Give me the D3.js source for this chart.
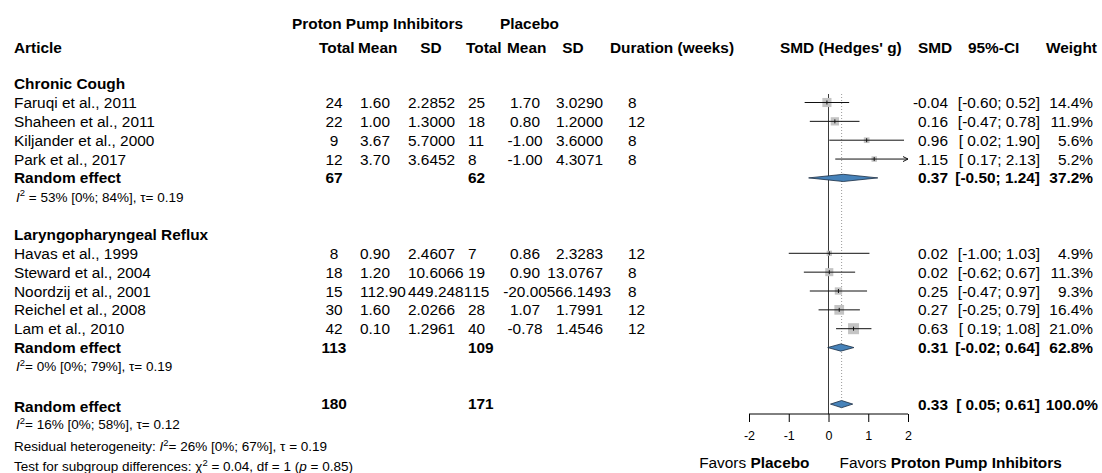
<!DOCTYPE html>
<html>
<head>
<meta charset="utf-8">
<script src="https://cdn.jsdelivr.net/npm/d3@7"></script>
<style>
  html, body { margin: 0; padding: 0; background: #fff; }
  svg text { font-family: "Liberation Sans", Arial, Helvetica, sans-serif; white-space: pre; }
</style>
</head>
<body>
<svg id="chart" width="1102" height="473"></svg>
<script>
// ---- Study-level data -------------------------------------------------
const groups = ["Chronic Cough", "Laryngopharyngeal Reflux"];
const studies = ["Faruqi et al., 2011", "Shaheen et al., 2011", "Kiljander et al., 2000", "Park et al., 2017",
                 "Havas et al., 1999", "Steward et al., 2004", "Noordzij et al., 2001", "Reichel et al., 2008", "Lam et al., 2010"];
const ppiTotal = [24, 22, 9, 12, 8, 18, 15, 30, 42];
const ppiMean  = [1.60, 1.00, 3.67, 3.70, 0.90, 1.20, 112.90, 1.60, 0.10];
const ppiSD    = [2.2852, 1.3000, 5.7000, 3.6452, 2.4607, 10.6066, 449.2481, 2.0266, 1.2961];
const plcTotal = [25, 18, 11, 8, 7, 19, 15, 28, 40];
const plcMean  = [1.70, 0.80, -1.00, -1.00, 0.86, 0.90, -20.00, 1.07, -0.78];
const plcSD    = [3.0290, 1.2000, 3.6000, 4.3071, 2.3283, 13.0767, 566.1493, 1.7991, 1.4546];
const duration = [8, 12, 8, 8, 12, 8, 8, 12, 12];
const smd      = [-0.04, 0.16, 0.96, 1.15, 0.02, 0.02, 0.25, 0.27, 0.63];
const ciLower  = [-0.60, -0.47, 0.02, 0.17, -1.00, -0.62, -0.47, -0.25, 0.19];
const ciUpper  = [0.52, 0.78, 1.90, 2.13, 1.03, 0.67, 0.97, 0.79, 1.08];
const weight   = [14.4, 11.9, 5.6, 5.2, 4.9, 11.3, 9.3, 16.4, 21.0];

// ---- Pooled (random effects) estimates -----------------------------------
const subSMD = [0.37, 0.31];
const subLower = [-0.50, -0.02];
const subUpper = [1.24, 0.64];
const subWeight = [37.2, 62.8];
const subPpiTotal = [67, 113];
const subPlcTotal = [62, 109];
const subHet = [
  { i2: "53%", ci: "[0%; 84%]", tau: "0.19", gap: " " },
  { i2: "0%",  ci: "[0%; 79%]", tau: "0.19", gap: "" }
];
const overall = { smd: 0.33, lower: 0.05, upper: 0.61, weight: 100.0, ppiTotal: 180, plcTotal: 171 };
const overallHet = { i2: "16%", ci: "[0%; 58%]", tau: "0.12" };
const residualHet = { i2: "26%", ci: "[0%; 67%]", tau: "0.19" };
const subgroupTest = { chi2: "0.04", df: "1", p: "0.85" };

const axisTicks = [-2, -1, 0, 1, 2];
const labelLeft = ["Favors ", "Placebo"];
const labelRight = ["Favors ", "Proton Pump Inhibitors"];

// ---- Layout ---------------------------------------------------------------
const svg = d3.select("#chart");
const FS = 15.4;       // main text size
const FS_SMALL = 13.5; // heterogeneity lines
const x = d3.scaleLinear().domain([-2, 2]).range([749, 908]);
// row index -> vertical centre
const row = d3.scaleLinear().domain([0, 1]).range([102.5, 121.35]);

const col = {
  study: 14, ppiTotal: 334, ppiMean: 360, ppiSD: 408, plcTotal: 468,
  plcMean: 525, plcSD: 603, duration: 628, smd: 948, ci: 1040, weight: 1093
};

function text(x0, y0, str, opt = {}) {
  return svg.append("text")
    .attr("x", x0).attr("y", y0).attr("dy", "0.36em")
    .attr("text-anchor", opt.anchor || "start")
    .attr("font-size", opt.size || FS)
    .attr("font-weight", opt.bold ? "bold" : "normal")
    .attr("fill", "#000")
    .text(str);
}
const f2 = d => d.toFixed(2);
const f4 = d => d.toFixed(4);
const fci = (l, u) => `[${l < 0 ? "" : " "}${f2(l)}; ${f2(u)}]`;

// Cells of one table row are laid out left to right; a cell whose text runs
// into the next one pushes that neighbour to the right.
function tableRow(cells) {
  let prevRight = -Infinity;
  cells.forEach(c => {
    const t = text(c.x, c.y, c.str, c);
    let b = t.node().getBBox();
    if (b.x < prevRight) {
      t.attr("x", c.x + (prevRight - b.x));
      b = t.node().getBBox();
    }
    prevRight = b.x + b.width;
  });
}

// ---- Row assignment ------------------------------------------------------
const studyRow = [0, 1, 2, 3, 8, 9, 10, 11, 12];
const groupHeaderRow = [-1, 7];
const subRow = [4, 13];
const subHetRow = [5, 14];
const overallRow = 16;

// ---- Column headers --------------------------------------------------------
text(292, 23, "Proton Pump Inhibitors", { bold: true });
text(500, 23, "Placebo", { bold: true });
const hy = 47;
text(col.study, hy, "Article", { bold: true });
text(319, hy, "Total", { bold: true });
text(358, hy, "Mean", { bold: true });
text(431, hy, "SD", { bold: true, anchor: "middle" });
text(466, hy, "Total", { bold: true });
text(507, hy, "Mean", { bold: true });
text(573, hy, "SD", { bold: true, anchor: "middle" });
text(610, hy, "Duration (weeks)", { bold: true });
text(780, hy, "SMD (Hedges' g)", { bold: true });
text(918, hy, "SMD", { bold: true });
text(968, hy, "95%-CI", { bold: true });
text(1097, hy, "Weight", { bold: true, anchor: "end" });

// ---- Reference lines ------------------------------------------------------
const lineTop = 94;
svg.append("line")
  .attr("x1", x(0)).attr("x2", x(0))
  .attr("y1", lineTop).attr("y2", 414)
  .attr("stroke", "#3a3a3a").attr("stroke-width", 1);
svg.append("line")
  .attr("x1", x(overall.smd)).attr("x2", x(overall.smd))
  .attr("y1", lineTop).attr("y2", row(overallRow) - 4)
  .attr("stroke", "#9a9a9a").attr("stroke-width", 1)
  .attr("stroke-dasharray", "1,2");

// ---- Group headers -----------------------------------------------------------
groups.forEach((g, i) => text(col.study, row(groupHeaderRow[i]), g, { bold: true }));

// ---- Study rows ------------------------------------------------------------
const clip = v => Math.max(-2, Math.min(2, v));
studies.forEach((s, i) => {
  const y = row(studyRow[i]);
  tableRow([
    { x: col.study, y, str: s },
    { x: col.ppiTotal, y, str: String(ppiTotal[i]), anchor: "middle" },
    { x: col.ppiMean, y, str: f2(ppiMean[i]) },
    { x: col.ppiSD, y, str: f4(ppiSD[i]) },
    { x: col.plcTotal, y, str: String(plcTotal[i]) },
    { x: col.plcMean, y, str: f2(plcMean[i]), anchor: "middle" },
    { x: col.plcSD, y, str: f4(plcSD[i]), anchor: "end" },
    { x: col.duration, y, str: String(duration[i]) }
  ]);
  text(col.smd, y, f2(smd[i]), { anchor: "end" });
  text(col.ci, y, fci(ciLower[i], ciUpper[i]), { anchor: "end" });
  text(col.weight, y, weight[i].toFixed(1) + "%", { anchor: "end" });

  // weighted square (area proportional to weight)
  const side = 2.4 * Math.sqrt(weight[i]);
  svg.append("rect")
    .attr("x", x(smd[i]) - side / 2).attr("y", y - side / 2)
    .attr("width", side).attr("height", side)
    .attr("fill", "#c4c4c4");
  // confidence interval
  svg.append("line")
    .attr("x1", x(clip(ciLower[i]))).attr("x2", x(clip(ciUpper[i])))
    .attr("y1", y).attr("y2", y)
    .attr("stroke", "#111").attr("stroke-width", 1);
  if (ciUpper[i] > 2) {
    const xe = x(2);
    svg.append("path")
      .attr("d", `M${xe - 5},${y - 2.5} L${xe},${y} L${xe - 5},${y + 2.5}`)
      .attr("fill", "none").attr("stroke", "#111").attr("stroke-width", 1);
  }
  // point estimate tick
  svg.append("line")
    .attr("x1", x(smd[i])).attr("x2", x(smd[i]))
    .attr("y1", y - 2).attr("y2", y + 2)
    .attr("stroke", "#111").attr("stroke-width", 1);
});

// ---- Pooled diamonds ---------------------------------------------------------
function diamond(est, lo, hi, y) {
  const h = 3.6;
  svg.append("path")
    .attr("d", `M${x(lo)},${y} L${x(est)},${y - h} L${x(hi)},${y} L${x(est)},${y + h} Z`)
    .attr("fill", "#4682b9").attr("stroke", "#1c2f44").attr("stroke-width", 0.8);
}

function hetLine(x0, y, h, prefix) {
  const t = svg.append("text")
    .attr("x", x0).attr("y", y).attr("dy", "0.36em")
    .attr("font-size", FS_SMALL).attr("fill", "#000");
  if (prefix) t.append("tspan").text(prefix);
  t.append("tspan").attr("font-style", "italic").text("I");
  t.append("tspan").attr("font-size", FS_SMALL * 0.7).attr("dy", "-0.55em").text("2");
  t.append("tspan").attr("dy", "0.385em").text(`${h.gap || ""}= ${h.i2} ${h.ci}, τ${h.tauGap || ""}= ${h.tau}`);
  return t;
}

groups.forEach((g, i) => {
  const y = row(subRow[i]);
  text(col.study, y, "Random effect", { bold: true });
  text(col.ppiTotal, y, String(subPpiTotal[i]), { bold: true, anchor: "middle" });
  text(col.plcTotal, y, String(subPlcTotal[i]), { bold: true });
  text(col.smd, y, f2(subSMD[i]), { bold: true, anchor: "end" });
  text(col.ci, y, fci(subLower[i], subUpper[i]), { bold: true, anchor: "end" });
  text(col.weight, y, subWeight[i].toFixed(1) + "%", { bold: true, anchor: "end" });
  diamond(subSMD[i], subLower[i], subUpper[i], y);
  hetLine(col.study + 2, row(subHetRow[i]), subHet[i]);
});

// ---- Overall -----------------------------------------------------------------
const yo = row(overallRow);
text(col.study, yo + 2, "Random effect", { bold: true });
text(col.ppiTotal, yo - 1, String(overall.ppiTotal), { bold: true, anchor: "middle" });
text(col.plcTotal, yo - 1, String(overall.plcTotal), { bold: true });
text(col.smd, yo, f2(overall.smd), { bold: true, anchor: "end" });
text(col.ci, yo, fci(overall.lower, overall.upper), { bold: true, anchor: "end" });
text(col.weight + 5, yo, overall.weight.toFixed(1) + "%", { bold: true, anchor: "end" });
diamond(overall.smd, overall.lower, overall.upper, yo);

hetLine(col.study + 2, 424, overallHet);
hetLine(col.study, 446, { ...residualHet, tauGap: " " }, "Residual heterogeneity: ");

const tt = svg.append("text")
  .attr("x", col.study).attr("y", 466).attr("dy", "0.36em")
  .attr("font-size", FS_SMALL).attr("fill", "#000");
tt.append("tspan").text("Test for subgroup differences: χ");
tt.append("tspan").attr("font-size", FS_SMALL * 0.7).attr("dy", "-0.55em").text("2");
tt.append("tspan").attr("dy", "0.385em").text(` = ${subgroupTest.chi2}, df = ${subgroupTest.df} (`);
tt.append("tspan").attr("font-style", "italic").text("p");
tt.append("tspan").text(` = ${subgroupTest.p})`);

// ---- Axis --------------------------------------------------------------------
const axisY = 414;
const axis = d3.axisBottom(x).tickValues(axisTicks).tickSize(8).tickPadding(9)
  .tickFormat(d => String(d));
const ag = svg.append("g").attr("transform", `translate(0,${axisY})`).call(axis);
ag.select(".domain").attr("d", `M${x(-2)},0H${x(2)}`).attr("stroke", "#000");
ag.selectAll(".tick line").attr("stroke", "#000");
ag.selectAll(".tick text")
  .attr("font-family", "'Liberation Sans', Arial, sans-serif")
  .attr("font-size", 12.5).attr("fill", "#000");

// ---- Direction labels -----------------------------------------------------------
const ly = 462;
const ll = svg.append("text").attr("x", x(0) - 19).attr("y", ly).attr("dy", "0.36em")
  .attr("text-anchor", "end").attr("font-size", FS);
ll.append("tspan").text(labelLeft[0]);
ll.append("tspan").attr("font-weight", "bold").text(labelLeft[1]);
const lr = svg.append("text").attr("x", x(0) + 11).attr("y", ly).attr("dy", "0.36em")
  .attr("text-anchor", "start").attr("font-size", FS);
lr.append("tspan").text(labelRight[0]);
lr.append("tspan").attr("font-weight", "bold").text(labelRight[1]);
</script>
</body>
</html>
